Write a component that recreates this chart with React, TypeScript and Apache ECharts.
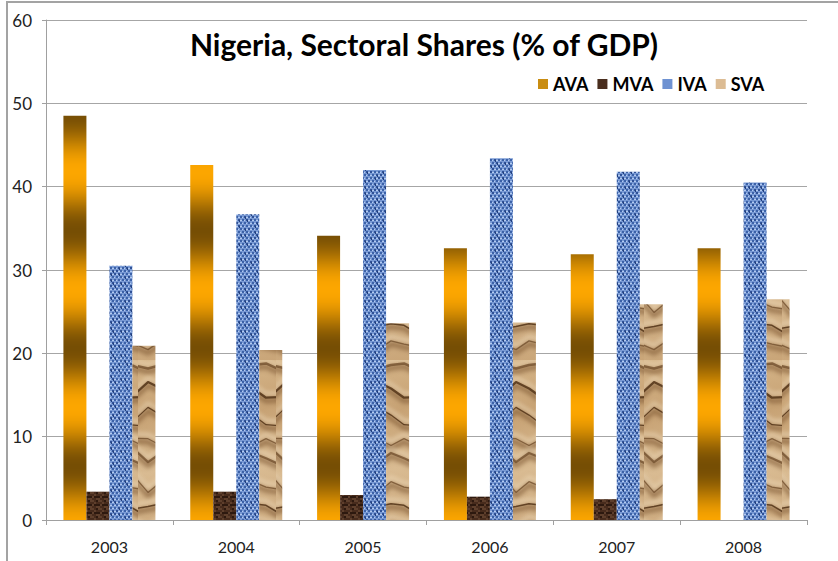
import React, { useEffect, useRef } from "react";
import * as echarts from "echarts";

const categories = ["2003", "2004", "2005", "2006", "2007", "2008"];
const seriesNames = ["AVA", "MVA", "IVA", "SVA"];
const ava = [48.5, 42.6, 34.1, 32.6, 31.9, 32.6];
const mva = [3.4, 3.4, 3.0, 2.8, 2.5, null];
const iva = [30.5, 36.7, 42.0, 43.4, 41.8, 40.5];
const sva = [20.9, 20.4, 23.6, 23.7, 25.9, 26.5];
const yTicks = [0, 10, 20, 30, 40, 50, 60];

const FONT = "Lato, 'Open Sans', sans-serif";

function hash(i: number, j: number) {
  const s = Math.sin(i * 12.9898 + j * 78.233) * 43758.5453;
  return s - Math.floor(s);
}

function makeCanvas(w: number, h: number) {
  const c = document.createElement("canvas");
  c.width = w;
  c.height = h;
  return c;
}

function lerp(a: number[], b: number[], t: number) {
  return a.map((v, k) => Math.round(v + (b[k] - v) * t));
}

function avaPattern() {
  const H = 118;
  const c = makeCanvas(4, H);
  const ctx = c.getContext("2d")!;
  const dark = [118, 78, 4];
  const orange = [252, 166, 0];
  for (let y = 0; y < H; y++) {
    const t = (Math.cos((2 * Math.PI * (y - 112)) / H) + 1) / 2;
    const col = lerp(orange, dark, Math.pow(t, 1.1));
    ctx.fillStyle = `rgb(${col[0]},${col[1]},${col[2]})`;
    ctx.fillRect(0, y, 4, 1);
  }
  return c;
}

function ivaPattern() {
  const W = 24, H = 24;
  const c = makeCanvas(W, H);
  const ctx = c.getContext("2d")!;
  ctx.fillStyle = "#7899d4";
  ctx.fillRect(0, 0, W, H);
  for (let j = 0; j < H / 3; j++) {
    for (let i = 0; i < W / 4; i++) {
      const r = hash(i, j);
      const ox = i * 4 + (j % 2 ? 2 : 0);
      const oy = j * 3;
      ctx.fillStyle = r > 0.5 ? "#2f5196" : "#3c62a8";
      ctx.fillRect(ox % W, oy, 2, 2);
      ctx.fillStyle = "#b4cbf0";
      ctx.fillRect((ox + 2) % W, oy + 1, r > 0.3 ? 2 : 1, 1);
      if (r > 0.7) {
        ctx.fillStyle = "#23407c";
        ctx.fillRect((ox + 1) % W, oy + 1, 1, 2);
      }
    }
  }
  return c;
}

function svaPattern() {
  const W = 46, H = 180;
  const c = makeCanvas(W, H);
  const ctx = c.getContext("2d")!;
  const g = ctx.createLinearGradient(0, 0, W, H);
  g.addColorStop(0, "#d6b68a");
  g.addColorStop(0.3, "#c7a274");
  g.addColorStop(0.6, "#d9bb92");
  g.addColorStop(1, "#c9a578");
  ctx.fillStyle = g;
  ctx.fillRect(0, 0, W, H);
  ctx.lineCap = "round";
  ctx.lineJoin = "round";
  const creases: number[][][] = [];
  for (let k = 0; k < 8; k++) {
    const y0 = k * 23 + 8 * hash(k, 1);
    const pts: number[][] = [];
    const n = 4;
    for (let p = 0; p <= n; p++) {
      pts.push([-3 + (p * (W + 6)) / n, y0 + (hash(k, p + 10) - 0.5) * 18 + p * 2]);
    }
    creases.push(pts);
  }
  const drawPts = (pts: number[][], dy: number) => {
    ctx.beginPath();
    ctx.moveTo(pts[0][0], pts[0][1] + dy);
    for (let p = 1; p < pts.length; p++) ctx.lineTo(pts[p][0], pts[p][1] + dy);
    ctx.stroke();
  };
  (ctx as any).filter = "blur(2px)";
  for (const pts of creases) {
    ctx.strokeStyle = "rgba(120,82,45,0.55)";
    ctx.lineWidth = 6;
    drawPts(pts, 3);
    ctx.strokeStyle = "rgba(238,218,186,0.6)";
    ctx.lineWidth = 4;
    drawPts(pts, -4);
  }
  (ctx as any).filter = "blur(0.6px)";
  creases.forEach((pts, k) => {
    ctx.strokeStyle = hash(k, 4) > 0.5 ? "rgba(88,56,28,0.9)" : "rgba(110,75,42,0.75)";
    ctx.lineWidth = 1.2 + hash(k, 6) * 1.3;
    drawPts(pts, 0);
  });
  (ctx as any).filter = "none";
  return c;
}

function mvaPattern() {
  const W = 8, H = 8;
  const c = makeCanvas(W, H);
  const ctx = c.getContext("2d")!;
  ctx.fillStyle = "#46291a";
  ctx.fillRect(0, 0, W, H);
  for (let j = 0; j < H; j += 2) {
    for (let i = 0; i < W; i += 2) {
      const r = hash(i + 7, j + 3);
      ctx.fillStyle = r > 0.7 ? "#5e3f2c" : r < 0.25 ? "#2d190f" : "#472b1c";
      ctx.fillRect(i, j, 2, 2);
    }
  }
  return c;
}

export default function App() {
  const ref = useRef<HTMLDivElement>(null);
  useEffect(() => {
    if (!ref.current) return;
    const chart = echarts.init(ref.current, undefined, { renderer: "svg" });
    const pat = (img: HTMLCanvasElement) => ({ image: img, repeat: "repeat" } as any);
    const colors = [pat(avaPattern()), pat(mvaPattern()), pat(ivaPattern()), pat(svaPattern())];
    const legendColors = ["#c98d12", "#4a2e1e", "#6e92d2", "#dcbc94"];
    const values = [ava, mva, iva, sva];
    chart.setOption({
      animation: false,
      backgroundColor: "#ffffff",
      title: {
        text: "Nigeria, Sectoral Shares (% of GDP)",
        left: 419,
        top: 24,
        textAlign: "center",
        textStyle: { fontFamily: FONT, fontSize: 30, fontWeight: "bold", color: "#000" },
      },
      legend: {
        data: seriesNames.map((n, k) => ({ name: n, itemStyle: { color: legendColors[k] } })),
        left: 533,
        top: 70,
        icon: "rect",
        itemWidth: 10,
        itemHeight: 10,
        itemGap: 9,
        textStyle: { fontFamily: FONT, fontSize: 18, fontWeight: "bold", color: "#000" },
      },
      grid: { left: 46, right: 31, top: 20, bottom: 41, containLabel: false },
      xAxis: {
        type: "category",
        data: categories,
        axisLine: { lineStyle: { color: "#a0a0a0", width: 1 } },
        axisTick: { show: true, length: 5, lineStyle: { color: "#a0a0a0" } },
        axisLabel: { fontFamily: FONT, fontSize: 16, color: "#222", margin: 18 },
      },
      yAxis: {
        type: "value",
        min: yTicks[0],
        max: yTicks[yTicks.length - 1],
        interval: 10,
        axisLine: { show: true, lineStyle: { color: "#a0a0a0", width: 1 } },
        axisTick: { show: true, length: 4, lineStyle: { color: "#a0a0a0" } },
        axisLabel: { fontFamily: FONT, fontSize: 17, color: "#222", margin: 14 },
        splitLine: { lineStyle: { color: "#a6a6a6", width: 1 } },
      },
      graphic: [
        {
          type: "polyline",
          z: -1,
          shape: { points: [[7, 561], [7, 2], [838, 2]] },
          style: { stroke: "#a3a3a3", lineWidth: 2, fill: null },
        },
      ],
      series: seriesNames.map((n, k) => ({
        name: n,
        type: "bar",
        data: values[k],
        barWidth: 23,
        barGap: "0%",
        itemStyle: { color: colors[k] },
      })),
    });
    return () => chart.dispose();
  }, []);
  return (
    <div
      ref={ref}
      style={{ position: "fixed", left: 0, top: 0, width: 838, height: 561, background: "#fff" }}
    />
  );
}
